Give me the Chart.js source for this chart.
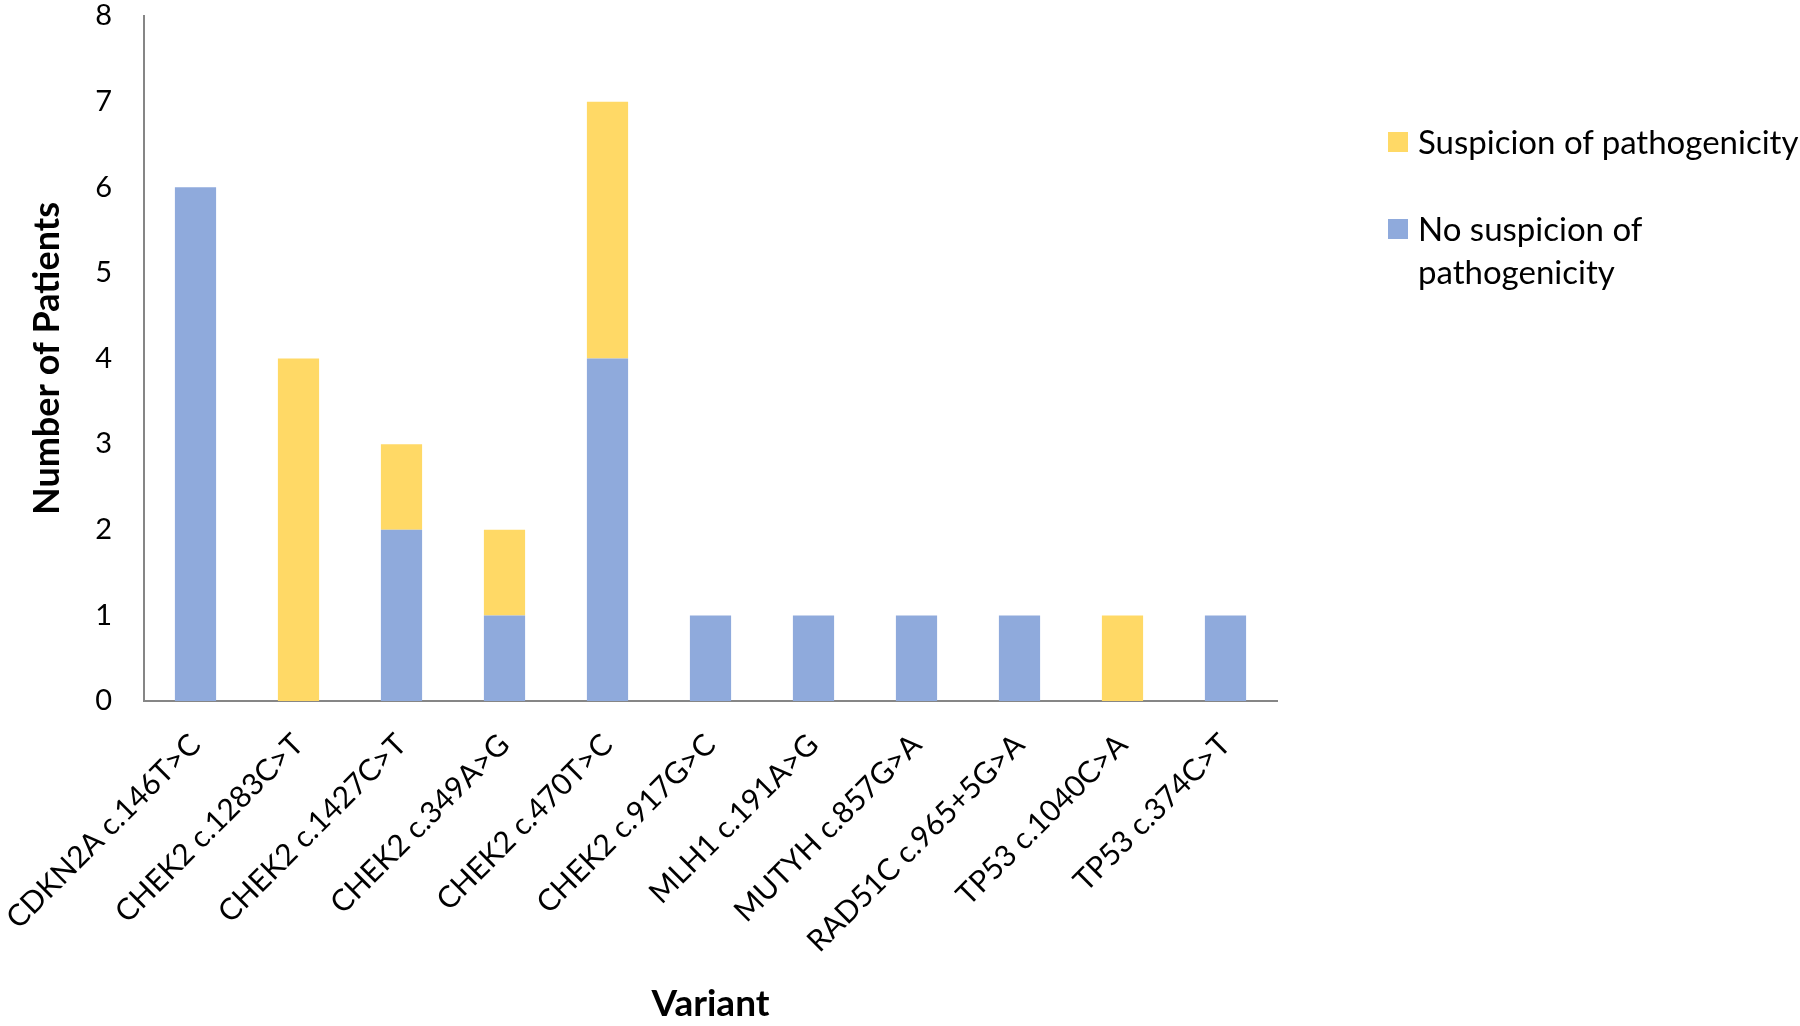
<!DOCTYPE html>
<html lang="en">
<head>
    <meta charset="UTF-8">
    <title>Variants</title>
    <script src="https://cdn.jsdelivr.net/npm/chart.js"></script>
    <style>
        body { margin: 0; background: #fff; }
        .ctn { position: relative; width: 1800px; height: 1026px; }
        #legend { position: absolute; left: 1388px; top: 120px; font-family: Lato, sans-serif; font-size: 33px; color: #000; }
        .item { display: flex; align-items: flex-start; margin-bottom: 44px; line-height: 43px; }
        .box { width: 20px; height: 20px; margin-right: 10px; margin-top: 12px; flex: none; }
    </style>
</head>
<body>
    <div class="ctn">
        <canvas id="myChart" width="1800" height="1026"></canvas>
        <div id="legend"></div>
    </div>
<script>
    // du lieu
    var variants = ['CDKN2A c.146T>C', 'CHEK2 c.1283C>T', 'CHEK2 c.1427C>T', 'CHEK2 c.349A>G', 'CHEK2 c.470T>C',
        'CHEK2 c.917G>C', 'MLH1 c.191A>G', 'MUTYH c.857G>A', 'RAD51C c.965+5G>A', 'TP53 c.1040C>A', 'TP53 c.374C>T'];
    var noSuspicion = [6, 0, 2, 1, 4, 1, 1, 1, 1, 0, 1];
    var suspicion = [0, 4, 1, 1, 3, 0, 0, 0, 0, 1, 0];
    var yTicks = [0, 1, 2, 3, 4, 5, 6, 7, 8];

    var blue = '#8FAADC';
    var yellow = '#FFD966';
    var axisColor = '#868686';
    var fnt = 'Lato, sans-serif';

    // legend html (thu tu giong hinh: vang truoc)
    var legend = document.getElementById('legend');
    [['Suspicion of pathogenicity', yellow, ''], ['No suspicion of', blue, 'pathogenicity']].forEach(function (it) {
        var d = document.createElement('div');
        d.className = 'item';
        d.innerHTML = '<span class="box" style="background:' + it[1] + '"></span><span>' + it[0] + (it[2] ? '<br>' + it[2] : '') + '</span>';
        legend.appendChild(d);
    });

    var ctx = document.getElementById('myChart').getContext('2d');
    var myChart = new Chart(ctx, {
        type: 'bar',
        data: {
            labels: variants,
            datasets: [{
                label: 'No suspicion of pathogenicity',
                data: noSuspicion,
                backgroundColor: blue,
                barPercentage: 0.4,
                categoryPercentage: 1
            }, {
                label: 'Suspicion of pathogenicity',
                data: suspicion,
                backgroundColor: yellow,
                barPercentage: 0.4,
                categoryPercentage: 1
            }]
        },
        options: {
            responsive: false,
            animation: false,
            layout: { padding: { left: 0, right: 523, top: 16, bottom: 0 } },
            plugins: { legend: { display: false }, tooltip: { enabled: false } },
            scales: {
                x: {
                    stacked: true,
                    grid: { display: false },
                    border: { display: true, color: axisColor, width: 2 },
                    ticks: { color: '#000', font: { family: fnt, size: 30 }, minRotation: 45, maxRotation: 45, padding: 18, autoSkip: false },
                    title: { display: true, text: 'Variant', color: '#000', font: { family: fnt, size: 37, weight: 'bold' }, padding: 0 },
                    afterFit: function (s) { s.height = 325; s.paddingLeft = 0; s.paddingRight = 0; }
                },
                y: {
                    stacked: true,
                    min: 0,
                    max: 8,
                    grid: { display: false },
                    border: { display: true, color: axisColor, width: 2 },
                    afterBuildTicks: function (s) { s.ticks = yTicks.map(function (v) { return { value: v }; }); },
                    ticks: { color: '#000', font: { family: fnt, size: 29 }, padding: 24 },
                    title: { display: true, text: 'Number of Patients', color: '#000', font: { family: fnt, size: 36, weight: 'bold' }, padding: { top: 26 } },
                    afterFit: function (s) { s.width = 144; s.paddingTop = 0; s.paddingBottom = 0; }
                }
            }
        }
    });
</script>
</body>
</html>
